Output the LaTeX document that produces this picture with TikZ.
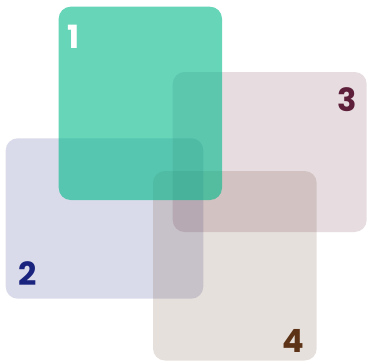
\documentclass[tikz,border=0pt]{standalone}
\usepackage{fontspec}
\usepackage{xcolor}
\usetikzlibrary{positioning}
\newfontfamily\numfont{Poppins}
\definecolor{CardTeal}{HTML}{00B98A}
\definecolor{CardNavy}{HTML}{1A237E}
\definecolor{CardPlum}{HTML}{5E1F3A}
\definecolor{CardBrown}{HTML}{5C3317}
\tikzset{
  panel/.style={rounded corners=12pt, draw=none, inner sep=0pt, outer sep=0pt,
    anchor=north west},
  panelTeal/.style={panel, fill=CardTeal, fill opacity=0.6},
  panelNavy/.style={panel, fill=CardNavy, fill opacity=0.16},
  panelPlum/.style={panel, fill=CardPlum, fill opacity=0.15},
  panelBrown/.style={panel, fill=CardBrown, fill opacity=0.15},
  numLbl/.style={font=\numfont\bfseries\fontsize{32}{32}\selectfont, inner sep=0pt},
}

\begin{document}
\begin{tikzpicture}[x=1pt, y=1pt]

  \fill[white] (0,0) rectangle (367,360);
  \useasboundingbox (0,0) rectangle (367,360);

  % cards, back to front
  \node[panelNavy, minimum width=197.6pt, minimum height=160.4pt] (c2) at (5.7,221.7) {};
  \node[panelPlum, minimum width=194pt, minimum height=160pt] (c3) at (172.7,288) {};
  \node[panelBrown, minimum width=163.7pt, minimum height=189.5pt] (c4) at (153,189) {};
  \node[panelTeal, minimum width=163.3pt, minimum height=193.3pt] (c1) at (58.7,353.3) {};

  % numbers
  \node[numLbl, text=white] (n1) at (74,323.5) {1};
  \node[numLbl, text=CardNavy] (n2) at (27.5,86) {2};
  \node[numLbl, text=CardPlum] (n3) at (347,260.5) {3};
  \node[numLbl, text=CardBrown] (n4) at (293,19) {4};

\end{tikzpicture}
\end{document}
